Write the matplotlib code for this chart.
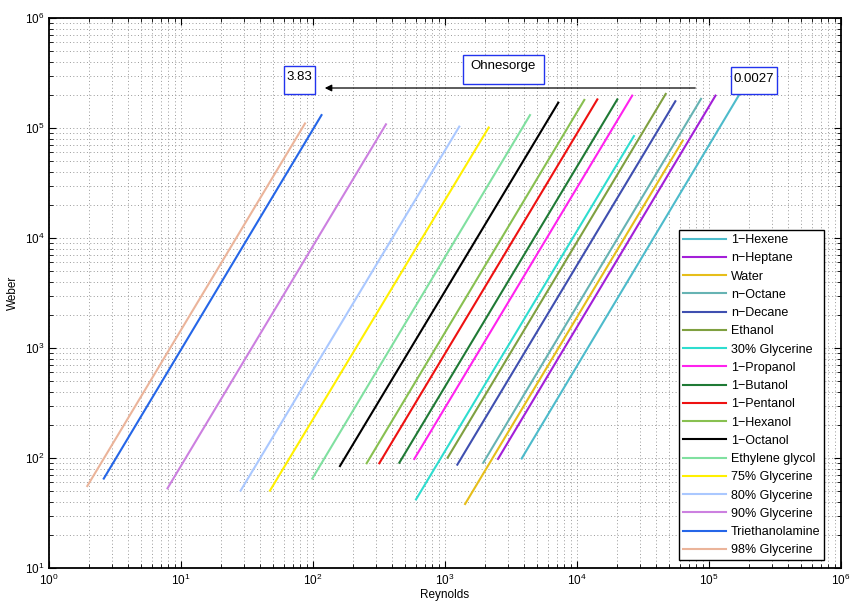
import matplotlib
matplotlib.use('Agg')
import matplotlib.pyplot as plt
from matplotlib.patches import Rectangle

# fluids, in legend order
fluids = ['1\u2212Hexene', 'n\u2212Heptane', 'Water', 'n\u2212Octane', 'n\u2212Decane',
          'Ethanol', '30% Glycerine', '1\u2212Propanol', '1\u2212Butanol', '1\u2212Pentanol',
          '1\u2212Hexanol', '1\u2212Octanol', 'Ethylene glycol', '75% Glycerine',
          '80% Glycerine', '90% Glycerine', 'Triethanolamine', '98% Glycerine']

# line endpoints (Reynolds, Weber)
re_start = [3810, 2520, 1420, 1950, 1240, 1047, 603, 585, 451, 318,
            255, 160, 98.8, 47.2, 28.3, 7.9, 2.6, 1.95]
we_start = [99, 98, 38.2, 90.6, 87, 100.6, 42, 98, 90.6, 89.6,
            89.6, 84.5, 65, 50.5, 50.5, 53, 65, 55.6]
re_end = [169000, 112000, 63200, 87000, 55600, 47000, 27000, 26200, 20200, 14260,
          11360, 7216, 4405, 2143, 1283, 357, 116, 87]
we_end = [2.0e5, 1.97e5, 7.67e4, 1.84e5, 1.75e5, 2.04e5, 8.45e4, 1.97e5, 1.82e5, 1.82e5,
          1.8e5, 1.7e5, 1.31e5, 1.01e5, 1.03e5, 1.08e5, 1.31e5, 1.1e5]

colors = ['#4DBBCB', '#A31FD8', '#E6BE1A', '#66B3B3', '#3F4FB0', '#7FA040', '#2EDDCF',
          '#FF22EE', '#1F7A35', '#EE1111', '#88C050', '#000000', '#80E0A0', '#FFF000',
          '#AAC8FF', '#CC80E0', '#2566E8', '#EBB49A']

plt.rcParams['font.family'] = ['Liberation Sans', 'DejaVu Sans']
plt.rcParams['font.size'] = 8.5

fig = plt.figure(figsize=(8.5, 6.05), dpi=100)
ax = fig.add_axes([49/850, 37/605, 792/850, 550/605])

for i in range(len(fluids)):
    ax.plot([re_start[i], re_end[i]], [we_start[i], we_end[i]],
            color=colors[i], lw=1.5, label=fluids[i])

ax.set_xscale('log')
ax.set_yscale('log')
ax.set_xlim(1, 1e6)
ax.set_ylim(10, 1e6)
ax.grid(True, which='both', linestyle=(0, (1, 2.5)), color='#999999', linewidth=0.7)
ax.tick_params(which='both', direction='in', top=True, right=True, labelsize=8.5)
ax.tick_params(which='major', length=5)
ax.tick_params(which='minor', length=3)
for s in ax.spines.values():
    s.set_linewidth(1.3)
ax.set_xlabel('Reynolds', fontsize=8.5, labelpad=1)
ax.set_ylabel('Weber', fontsize=8.5, labelpad=4)

leg = ax.legend(loc='lower right', bbox_to_anchor=(824/850, 45/605),
                bbox_transform=fig.transFigure, fontsize=9, frameon=True, fancybox=False,
                edgecolor='black', framealpha=1, borderpad=0.3, labelspacing=0.5,
                handlelength=3.5, handletextpad=0.35, borderaxespad=0)
leg.get_frame().set_linewidth(1.0)

# textboxes (figure pixel positions)
def textbox(x0, y0, w, h, s):
    fig.patches.append(Rectangle((x0/850, 1 - (y0 + h)/605), w/850, h/605,
                                 transform=fig.transFigure, fill=True, facecolor='white',
                                 edgecolor='#2233EE', linewidth=1.0, zorder=5))
    fig.text((x0 + w/2)/850, 1 - (y0 + 5.5)/605, s, ha='center', va='top', fontsize=9.5, zorder=6)

textbox(284, 66, 31, 28, '3.83')
textbox(463, 55, 81, 29, 'Ohnesorge')
textbox(731, 67, 46, 27, '0.0027')

ax.annotate('', xy=(117, 2.31e5), xytext=(82600, 2.31e5),
            arrowprops=dict(arrowstyle='-|>', color='black', lw=0.9, mutation_scale=10))

fig.savefig('out.png', dpi=100)
